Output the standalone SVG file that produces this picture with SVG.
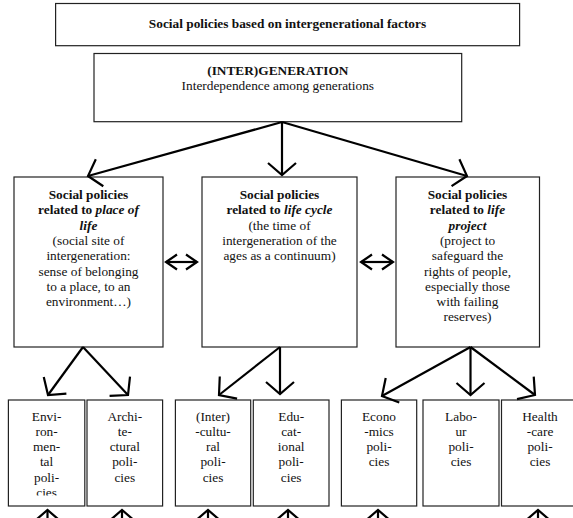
<svg xmlns="http://www.w3.org/2000/svg" width="573" height="518" viewBox="0 0 573 518">
<style>
text{font-family:"Liberation Serif","Times New Roman",serif;font-size:13.33px;fill:#111;text-anchor:middle}
.b{font-weight:bold}
.bi{font-weight:bold;font-style:italic}
.box{fill:#fff;stroke:#222;stroke-width:1.2}
.conn line{stroke:#000;stroke-width:2.2;fill:none}
</style>
<defs>
<marker id="ah" markerUnits="userSpaceOnUse" markerWidth="40" markerHeight="40" viewBox="-20 -20 40 40" refX="0" refY="0" orient="auto-start-reverse">
<path d="M-12,-14 L0,0 L-12,14" fill="none" stroke="#000" stroke-width="2.2"/>
</marker>
<marker id="ahs" markerUnits="userSpaceOnUse" markerWidth="30" markerHeight="30" viewBox="-15 -15 30 30" refX="0" refY="0" orient="auto-start-reverse">
<path d="M-11,-7.5 L0,0 L-11,7.5" fill="none" stroke="#000" stroke-width="2.2"/>
</marker>
<clipPath id="c1"><rect x="8" y="400" width="78" height="95.5"/></clipPath>
</defs>

<g id="title">
<rect class="box" x="55.6" y="3.5" width="464" height="42.2"/>
<text class="b" x="287.5" y="27.5">Social policies based on intergenerational factors</text>
</g>

<g id="intergeneration">
<rect class="box" x="94" y="53.5" width="367.7" height="68.2"/>
<text class="b" x="277.8" y="75">(INTER)GENERATION</text>
<text x="277.8" y="90">Interdependence among generations</text>
</g>

<g id="place-of-life">
<rect class="box" x="14" y="177" width="149" height="170"/>
<text x="88.5" y="199"><tspan class="b">Social policies</tspan></text>
<text x="88.5" y="214.3"><tspan class="b">related to </tspan><tspan class="bi">place of</tspan></text>
<text x="88.5" y="229.6" class="bi">life</text>
<text x="88.5" y="244.9">(social site of</text>
<text x="88.5" y="260.2">intergeneration:</text>
<text x="88.5" y="275.5">sense of belonging</text>
<text x="88.5" y="290.8">to a place, to an</text>
<text x="88.5" y="306.1">environment…)</text>
</g>

<g id="life-cycle">
<rect class="box" x="202" y="177" width="155" height="170"/>
<text x="279.5" y="199" class="b">Social policies</text>
<text x="279.5" y="214.3"><tspan class="b">related to </tspan><tspan class="bi">life cycle</tspan></text>
<text x="279.5" y="229.6">(the time of</text>
<text x="279.5" y="244.9">intergeneration of the</text>
<text x="279.5" y="260.2">ages as a continuum)</text>
</g>

<g id="life-project">
<rect class="box" x="396" y="177" width="143.5" height="170"/>
<text x="467.5" y="199" class="b">Social policies</text>
<text x="467.5" y="214.3"><tspan class="b">related to </tspan><tspan class="bi">life</tspan></text>
<text x="467.5" y="229.6" class="bi">project</text>
<text x="467.5" y="244.9">(project to</text>
<text x="467.5" y="260.2">safeguard the</text>
<text x="467.5" y="275.5">rights of people,</text>
<text x="467.5" y="290.8">especially those</text>
<text x="467.5" y="306.1">with failing</text>
<text x="467.5" y="321.4">reserves)</text>
</g>

<g id="environmental">
<rect class="box" x="8.4" y="400" width="76.4" height="106"/>
<g clip-path="url(#c1)">
<text x="46.6" y="420.7">Envi-</text>
<text x="46.6" y="435.9">ron-</text>
<text x="46.6" y="451.1">men-</text>
<text x="46.6" y="466.3">tal</text>
<text x="46.6" y="481.5">poli-</text>
<text x="46.6" y="496.7">cies</text>
</g>
</g>

<g id="architectural">
<rect class="box" x="87" y="400" width="75.6" height="106"/>
<text x="124.8" y="420.7">Archi-</text>
<text x="124.8" y="435.9">te-</text>
<text x="124.8" y="451.1">ctural</text>
<text x="124.8" y="466.3">poli-</text>
<text x="124.8" y="481.5">cies</text>
</g>

<g id="intercultural">
<rect class="box" x="175.4" y="400" width="75.3" height="106"/>
<text x="213" y="420.7">(Inter)</text>
<text x="213" y="435.9">-cultu-</text>
<text x="213" y="451.1">ral</text>
<text x="213" y="466.3">poli-</text>
<text x="213" y="481.5">cies</text>
</g>

<g id="educational">
<rect class="box" x="253.3" y="400" width="75.7" height="106"/>
<text x="291.2" y="420.7">Edu-</text>
<text x="291.2" y="435.9">cat-</text>
<text x="291.2" y="451.1">ional</text>
<text x="291.2" y="466.3">poli-</text>
<text x="291.2" y="481.5">cies</text>
</g>

<g id="economics">
<rect class="box" x="341.4" y="400" width="75.3" height="106"/>
<text x="379" y="420.7">Econo</text>
<text x="379" y="435.9">-mics</text>
<text x="379" y="451.1">poli-</text>
<text x="379" y="466.3">cies</text>
</g>

<g id="labour">
<rect class="box" x="423" y="400" width="76" height="106"/>
<text x="461" y="420.7">Labo-</text>
<text x="461" y="435.9">ur</text>
<text x="461" y="451.1">poli-</text>
<text x="461" y="466.3">cies</text>
</g>

<g id="health-care">
<rect class="box" x="501.5" y="400" width="77" height="106"/>
<text x="540" y="420.7">Health</text>
<text x="540" y="435.9">-care</text>
<text x="540" y="451.1">poli-</text>
<text x="540" y="466.3">cies</text>
</g>

<g id="connectors" class="conn">
<line x1="282" y1="122" x2="88" y2="176" marker-end="url(#ah)"/>
<line x1="282" y1="122" x2="282" y2="175" marker-end="url(#ah)"/>
<line x1="282" y1="122" x2="467" y2="176" marker-end="url(#ah)"/>
<line x1="166" y1="262" x2="197" y2="262" marker-start="url(#ahs)" marker-end="url(#ahs)"/>
<line x1="361" y1="262" x2="393" y2="262" marker-start="url(#ahs)" marker-end="url(#ahs)"/>
<line x1="83" y1="347" x2="48" y2="395" marker-end="url(#ah)"/>
<line x1="83" y1="347" x2="128" y2="395" marker-end="url(#ah)"/>
<line x1="280" y1="347" x2="219" y2="395" marker-end="url(#ah)"/>
<line x1="280" y1="347" x2="280" y2="394" marker-end="url(#ah)"/>
<line x1="470.5" y1="347" x2="382" y2="396" marker-end="url(#ah)"/>
<line x1="470.5" y1="347" x2="470.5" y2="395" marker-end="url(#ah)"/>
<line x1="470.5" y1="347" x2="535" y2="395" marker-end="url(#ah)"/>
<line x1="47.5" y1="540" x2="47.5" y2="510" marker-end="url(#ah)"/>
<line x1="122" y1="540" x2="122" y2="510" marker-end="url(#ah)"/>
<line x1="208" y1="540" x2="208" y2="510" marker-end="url(#ah)"/>
<line x1="288" y1="540" x2="288" y2="510" marker-end="url(#ah)"/>
<line x1="378" y1="540" x2="378" y2="510" marker-end="url(#ah)"/>
<line x1="538" y1="540" x2="538" y2="510" marker-end="url(#ah)"/>
</g>
</svg>
